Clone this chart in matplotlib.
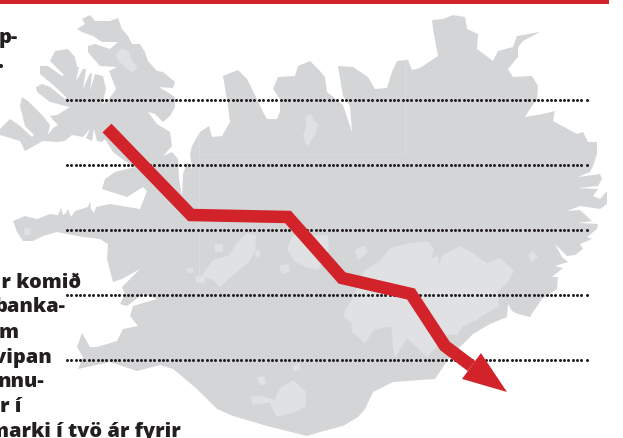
"""Iceland map with a falling red arrow."""
import matplotlib
matplotlib.use("Agg")
import matplotlib.pyplot as plt
import numpy as np

# top-left based page units, one unit is one pixel of the reference
land = [
    (82, 20), (90, 16), (95, 22), (110, 22), (118, 19), (122, 30), (128, 37), (132, 45),
    (140, 45), (145, 53), (148, 62), (157, 72), (163, 73), (175, 83), (173, 89), (159, 88),
    (175, 98), (175, 108), (170, 117), (163, 123), (155, 115), (148, 113), (157, 125),
    (170, 133), (172, 147), (163, 157), (172, 153), (178, 160), (179, 180), (182, 197),
    (183, 175), (187, 163), (192, 170), (190, 155), (192, 147), (200, 133), (209, 127),
    (212, 138), (222, 137), (230, 123), (228, 107), (223, 77), (238, 71), (247, 80),
    (257, 100), (263, 113), (267, 120), (277, 120), (280, 113), (280, 100), (273, 90),
    (278, 78), (295, 77), (298, 67), (310, 62), (320, 72), (325, 78), (327, 93), (343, 106),
    (352, 133), (350, 107), (343, 97), (338, 67), (353, 68), (368, 78), (375, 90), (387, 89),
    (392, 73), (397, 62), (408, 61), (412, 71), (420, 69), (438, 57), (433, 30), (432, 21),
    (443, 20), (453, 16), (465, 18), (467, 30), (478, 35), (477, 50), (493, 62), (498, 52),
    (513, 48), (517, 37), (540, 33), (523, 42), (518, 48), (518, 58), (508, 70), (513, 78),
    (532, 77), (538, 87), (537, 100), (530, 110), (525, 118), (543, 115), (555, 112),
    (553, 122), (577, 135), (583, 133), (588, 143), (597, 143), (597, 155), (593, 167),
    (590, 173), (578, 178), (600, 175), (602, 180), (598, 187), (578, 189), (598, 190),
    (593, 197), (600, 200), (607, 192), (607, 205), (600, 210), (580, 207), (567, 212),
    (580, 211), (592, 222), (578, 224), (598, 225), (597, 230), (587, 238), (592, 240),
    (580, 245), (583, 250), (575, 256), (567, 257), (555, 245), (562, 258), (568, 263),
    (555, 267), (563, 269), (552, 278), (558, 278), (557, 290), (542, 300), (533, 313),
    (530, 318), (518, 315), (512, 312), (508, 305),
    (507, 318), (490, 325), (473, 335), (460, 348), (447, 362), (435, 380), (393, 383),
    (373, 393), (365, 410), (358, 418), (343, 427), (320, 433), (307, 437), (267, 427),
    (233, 417), (217, 410), (197, 390), (173, 370), (160, 366), (137, 372), (110, 363),
    (78, 370), (83, 358), (77, 348), (82, 334), (90, 348), (97, 348), (117, 342), (123, 330),
    (138, 327), (130, 317), (133, 307), (157, 300), (143, 295), (127, 307), (120, 305),
    (125, 295), (122, 288), (140, 270), (122, 280), (113, 283), (107, 260), (108, 245),
    (100, 240), (83, 238), (57, 233), (43, 237), (33, 242), (23, 242), (17, 233), (13, 222),
    (25, 217), (37, 220), (50, 215), (58, 216), (61, 209), (63, 216), (66, 214), (68, 210),
    (71, 218), (75, 212), (88, 208), (90, 202), (91, 210), (94, 214), (96, 208), (110, 205),
    (140, 210), (147, 192), (143, 188), (127, 198), (102, 190), (105, 180), (115, 173),
    (135, 168), (125, 162), (113, 153), (110, 148), (105, 140), (102, 143), (97, 142),
    (94, 130), (92, 142), (86, 139), (90, 130), (83, 138), (72, 136), (65, 142), (57, 143),
    (43, 142), (25, 152), (20, 142), (0, 136), (0, 130), (10, 120), (20, 127), (32, 138),
    (34, 136), (25, 127), (20, 107), (22, 98), (28, 102), (43, 117), (50, 126), (48, 136),
    (53, 129), (58, 126), (53, 121), (50, 117), (57, 116), (70, 108), (50, 103), (37, 93),
    (36, 88), (42, 85), (50, 88), (65, 100), (66, 98), (52, 85), (40, 75), (40, 67), (48, 67),
    (62, 77), (64, 76), (50, 62), (55, 52), (68, 50), (75, 58), (77, 68), (79, 68), (76, 82),
    (83, 70), (86, 70), (83, 90), (90, 74), (92, 75), (90, 92), (95, 75), (103, 77), (106, 90),
    (102, 105), (109, 100), (116, 90), (111, 77), (109, 72), (117, 68), (100, 67), (88, 53),
    (88, 47), (95, 45), (110, 50), (118, 43), (102, 43), (93, 37), (82, 33), (77, 30), (85, 25),
]
ice_caps = [
    [(117, 55), (122, 50), (128, 53), (132, 63), (137, 68), (132, 73), (125, 67), (118, 60)],
    [(306, 118), (311, 116), (313, 122), (318, 126), (314, 136), (307, 146), (304, 136), (307, 128)],
    [(203, 277), (213, 262), (230, 257), (237, 245), (247, 235), (255, 237), (255, 250), (248, 263),
     (233, 275), (220, 287), (213, 280)],
    [(288, 250), (293, 237), (327, 237), (328, 250), (318, 270), (308, 268), (295, 262)],
    [(345, 313), (353, 300), (365, 272), (380, 263), (390, 250), (410, 245), (427, 243), (433, 250),
     (430, 262), (437, 257), (438, 270), (443, 257), (460, 248), (473, 255), (487, 265), (500, 260),
     (513, 272), (507, 283), (497, 292), (498, 307), (487, 313), (477, 320), (462, 327), (457, 335),
     (447, 335), (427, 357), (407, 338), (395, 357), (392, 327), (387, 327), (373, 330), (365, 343),
     (353, 333), (352, 323), (345, 318)],
    [(280, 390), (293, 382), (305, 393), (305, 407), (293, 413), (277, 417), (270, 403), (253, 405),
     (252, 398), (263, 398), (275, 402)],
    [(196, 278), (204, 277), (204, 283), (197, 283)],
    [(215, 246), (222, 246), (222, 252), (216, 252)],
    [(256, 252), (259, 252), (259, 257), (256, 257)],
    [(280, 267), (288, 266), (289, 272), (282, 274)],
    [(188, 270), (192, 270), (192, 273), (188, 273)],
    [(25, 230), (30, 230), (30, 235), (25, 235)],
    [(293, 368), (299, 365), (299, 370), (294, 371)],
    [(258, 379), (264, 378), (265, 385), (260, 385)],
    [(356, 251), (364, 248), (367, 253), (358, 260)],
    [(529, 256), (533, 253), (537, 258), (532, 262)],
]
seams = [
    ([199, 199], [135, 295]),
    ([199, 405], [155, 155]),
    ([405, 405], [60, 155]),
]
grid_levels = [101, 166, 231, 296, 361]
grid_start = 67
grid_end = 582
grid_last = 587
arrow_x = [107, 191, 288, 342, 411, 445, 471.5]
arrow_y = [129, 216, 218, 279, 295, 347, 367]
arrow_tip = (507, 393)
top_text = [("p-", 18, 35), (".", 3, 60)]
side_text = [
    ("ur komið", 81, 281), ("banka-", 65, 305), ("m", 19, 331), ("vipan", 52, 356),
    ("nnu-", 44, 380), ("r í", 21, 405), ("marki í tvö ár fyrir", 181, 430),
]

red = "#d2232a"
ink = "#231f20"
px = 72 / 100  # points per pixel at dpi 100

fig = plt.figure(figsize=(6.23, 4.39), dpi=100)
ax = fig.add_axes([0, 0, 1, 1])
ax.set_xlim(0, 623)
ax.set_ylim(439, 0)
ax.axis("off")

ax.fill(*zip(*land), color="#d4d5d7", lw=0, zorder=1)
for cap in ice_caps:
    ax.fill(*zip(*cap), facecolor="#e0e1e3", edgecolor="#e0e1e3", lw=1.2, joinstyle="round", zorder=2)
for sx, sy in seams:
    ax.plot(sx, sy, color="#dcdde0", lw=0.5, zorder=2)

# red rule along the top
ax.fill_between([0, 609], 0, 4.5, color=red, lw=0, zorder=3)

dots_x = np.append(np.arange(grid_start, grid_end, 4.36), grid_last)
for level in grid_levels:
    ax.plot(
        dots_x,
        np.full(dots_x.shape, level),
        "o",
        color=ink,
        ms=3 * px,
        mew=0,
        zorder=4,
    )

# arrow body, then the head from its last two points
ax.plot(
    arrow_x,
    arrow_y,
    color=red,
    lw=12.5 * px,
    solid_joinstyle="miter",
    solid_capstyle="butt",
    zorder=5,
)
base = np.array([arrow_x[-1], arrow_y[-1]])
tip = np.array(arrow_tip)
along = (tip - base) / np.linalg.norm(tip - base)
across = np.array([-along[1], along[0]]) * 16
head = np.array([base + across, tip, base - across])
ax.fill(head[:, 0], head[:, 1], color=red, lw=0, zorder=5)

for label, right, y in top_text + side_text:
    ax.text(
        right,
        y,
        label,
        ha="right",
        va="center_baseline",
        family="Open Sans",
        fontweight="extra bold",
        fontsize=14.4,
        color=ink,
        zorder=6,
    )

fig.savefig("out.png", dpi=100, facecolor="white")
